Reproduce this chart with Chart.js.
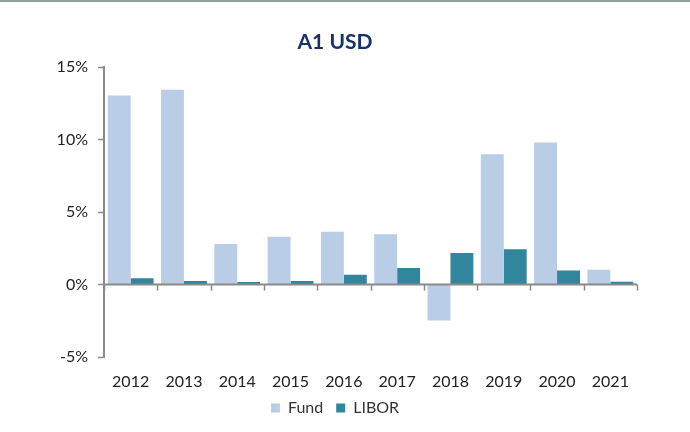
<!DOCTYPE html>
<html>
<head>
<meta charset="utf-8">
<script src="https://cdn.jsdelivr.net/npm/chart.js@4"></script>
<style>
  html, body { margin: 0; padding: 0; background: #fff; }
  #wrap { width: 690px; height: 432px; position: relative; }
</style>
</head>
<body>
<div id="wrap"><canvas id="chart" width="690" height="432"></canvas></div>
<script>
const years = ["2012", "2013", "2014", "2015", "2016", "2017", "2018", "2019", "2020", "2021"];
const fund = [13.05, 13.45, 2.8, 3.3, 3.65, 3.47, -2.48, 9.0, 9.8, 1.03];
const libor = [0.43, 0.25, 0.17, 0.25, 0.67, 1.15, 2.18, 2.43, 0.97, 0.2];
const yTicks = [-5, 0, 5, 10, 15];

const axisGray = "#8a8a8a";
const font = "Lato, 'Open Sans', sans-serif";

// gray rule at the very top + little tick marks under the zero line
const extras = {
    id: "extras",
    beforeDraw(chart) {
        const c = chart.ctx;
        c.save();
        c.fillStyle = "#959f9e";
        c.fillRect(0, 0, chart.width, 2);
        c.restore();
    },
    afterDatasetsDraw(chart) {
        const c = chart.ctx;
        const x = chart.scales.x;
        const y0 = chart.scales.y.getPixelForValue(0);
        const step = (x.right - x.left) / years.length;
        c.save();
        c.strokeStyle = axisGray;
        c.lineWidth = 2;
        c.beginPath();
        c.moveTo(x.left, y0);
        c.lineTo(x.right, y0);
        c.stroke();
        c.lineWidth = 1.5;
        for (let i = 0; i <= years.length; i++) {
            const px = Math.round(x.left + i * step) + 0.5;
            c.beginPath();
            c.moveTo(px, y0);
            c.lineTo(px, y0 + 6);
            c.stroke();
        }
        c.restore();
    }
};

new Chart(document.getElementById("chart"), {
    type: "bar",
    data: {
        labels: years,
        datasets: [
            { label: "Fund", data: fund, backgroundColor: "#b9cee6" },
            { label: "LIBOR", data: libor, backgroundColor: "#31859c" }
        ]
    },
    options: {
        responsive: false,
        animation: false,
        layout: { padding: { left: 0, right: 20, top: 0, bottom: 6 } },
        datasets: { bar: { categoryPercentage: 0.86, barPercentage: 1.0 } },
        plugins: {
            title: {
                display: true,
                text: "A1 USD",
                color: "#17326a",
                font: { family: font, size: 21, weight: "bold" },
                padding: { top: 30, bottom: 12 }
            },
            legend: {
                position: "bottom",
                labels: {
                    boxWidth: 9,
                    boxHeight: 9,
                    padding: 13,
                    color: "#333",
                    font: { family: font, size: 16 }
                }
            },
            tooltip: { enabled: false }
        },
        scales: {
            x: {
                grid: { display: false },
                border: { display: false },
                afterFit(scale) { scale.height = 30; },
                ticks: { color: "#222", font: { family: font, size: 16 }, padding: 7, maxRotation: 0 }
            },
            y: {
                min: -5,
                max: 15,
                afterFit(scale) { scale.width = 104; },
                afterBuildTicks(scale) { scale.ticks = yTicks.map(v => ({ value: v })); },
                ticks: {
                    color: "#222",
                    font: { family: font, size: 16 },
                    padding: 10,
                    callback: v => v + "%"
                },
                grid: {
                    drawOnChartArea: false,
                    tickLength: 6,
                    tickColor: axisGray,
                    tickWidth: 1.5
                },
                border: { color: axisGray, width: 2 }
            },
            // empty right-hand spacer so the title centres like the original
            yRight: {
                position: "right",
                display: true,
                afterFit(scale) { scale.width = 33; },
                grid: { display: false },
                border: { display: false },
                ticks: { display: false }
            }
        }
    },
    plugins: [extras]
});
</script>
</body>
</html>
